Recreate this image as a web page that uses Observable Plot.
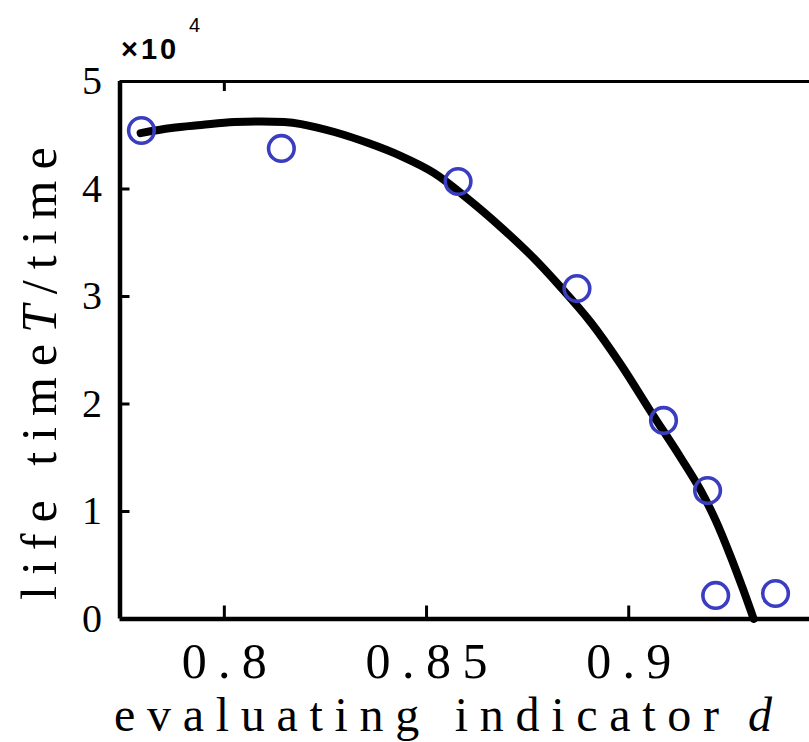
<!DOCTYPE html>
<html>
<head>
<meta charset="utf-8">
<script src="https://cdn.jsdelivr.net/npm/d3@7"></script>
<script src="https://cdn.jsdelivr.net/npm/@observablehq/plot@0.6"></script>
<style>
  html, body { margin: 0; padding: 0; background: white; }
  #chart svg { display: block; }
</style>
</head>
<body>
<div id="chart"></div>
<script>
// Measured samples: evaluating indicator d and life time T (in units of 10^4)
const sampleD = [0.7795, 0.8141, 0.8578, 0.8872, 0.9086, 0.9195, 0.9215, 0.9363];
const sampleT = [4.544, 4.377, 4.070, 3.074, 1.847, 1.195, 0.219, 0.237];

// Fitted curve
const fitD = [0.7793, 0.7869, 0.7943, 0.8025, 0.8148, 0.8190, 0.8272, 0.8356, 0.8437, 0.8519,
              0.8603, 0.8684, 0.8758, 0.8832, 0.8906, 0.8980, 0.9054, 0.9128, 0.9178, 0.9215,
              0.9252, 0.9282, 0.9309];
const fitT = [4.520, 4.567, 4.595, 4.623, 4.623, 4.604, 4.530, 4.427, 4.306, 4.148,
              3.906, 3.645, 3.384, 3.086, 2.761, 2.370, 1.932, 1.504, 1.197, 0.917,
              0.582, 0.284, 0.0];

const xTicks = [0.8, 0.85, 0.9];
const xTopTicks = [0.8];
const yTicks = [0, 1, 2, 3, 4, 5];
const yInnerTicks = [1, 2, 3, 4];
const xDomain = [0.7742, 0.9447];
const yDomain = [0, 5];

const samples = sampleD.map((d, i) => ({d, t: sampleT[i]}));
const fit = fitD.map((d, i) => ({d, t: fitT[i]}));

const serif = "'Liberation Serif', 'Times New Roman', serif";

const chart = Plot.plot({
  width: 809,
  height: 742,
  marginLeft: 119.5,
  marginRight: 0,
  marginTop: 81,
  marginBottom: 123.5,
  style: {background: "white", overflow: "visible"},
  x: {domain: xDomain},
  y: {domain: yDomain},
  marks: [
    Plot.line(fit, {x: "d", y: "t", stroke: "black", strokeWidth: 8, curve: "catmull-rom"}),
    Plot.dot(samples, {x: "d", y: "t", r: 12.8, stroke: "#3a3dbf", strokeWidth: 3.6, fill: "none"}),
    Plot.ruleY([yDomain[1]], {stroke: "black", strokeWidth: 3}),
    Plot.ruleY([yDomain[0]], {stroke: "black", strokeWidth: 4.5}),
    Plot.ruleX([xDomain[0]], {stroke: "black", strokeWidth: 4.5}),
    Plot.axisY(yInnerTicks, {anchor: "left", tickSize: -10, strokeWidth: 3, tickFormat: () => "", label: null}),
    Plot.axisY(yTicks, {anchor: "left", tickSize: 0, tickPadding: 18, fontSize: 40, fontFamily: serif,
                        tickFormat: d => String(d), label: null}),
    Plot.axisX(xTicks, {anchor: "bottom", tickSize: -13, strokeWidth: 3, tickFormat: () => "", label: null}),
    Plot.axisX(xTicks, {anchor: "bottom", tickSize: 0, tickPadding: 23, fontSize: 50, fontFamily: serif,
                        tickFormat: d => String(d), label: null}),
    Plot.axisX(xTopTicks, {anchor: "top", tickSize: -9, strokeWidth: 3, tickFormat: () => "", label: null})
  ]
});

document.getElementById("chart").appendChild(chart);

const svg = d3.select(chart);

// mimic the monospaced look of the x tick labels
svg.selectAll('g[aria-label="x-axis tick label"] text').each(function () {
  const n = this.textContent.length;
  if (n > 0) {
    d3.select(this).attr("textLength", 85 + (n - 3) * 37).attr("lengthAdjust", "spacing");
  }
});

// x-axis title
const xt = svg.append("g").attr("font-family", serif).attr("font-size", 48)
  .attr("fill", "black").attr("text-anchor", "start");
xt.append("text").attr("x", 114).attr("y", 731)
  .attr("textLength", 605).attr("lengthAdjust", "spacing")
  .text("evaluating indicator");
xt.append("text").attr("x", 748).attr("y", 731).attr("font-style", "italic").text("d");

// y-axis title
const yt = svg.append("text")
  .attr("transform", "translate(56,600) rotate(-90)")
  .attr("text-anchor", "start")
  .attr("font-family", serif).attr("font-size", 50).attr("fill", "black")
  .attr("letter-spacing", "11px");
yt.append("tspan").text("life time");
yt.append("tspan").attr("font-style", "italic").text("T");
yt.append("tspan").text("/time");

// exponent
const ex = svg.append("g").attr("font-family", "'Liberation Sans', Arial, sans-serif")
  .attr("fill", "black").attr("text-anchor", "start");
ex.append("text").attr("x", 121).attr("y", 59).attr("font-size", 29).attr("font-weight", "bold")
  .attr("letter-spacing", "3px").text("×10");
ex.append("text").attr("x", 189).attr("y", 32).attr("font-size", 20).text("4");
</script>
</body>
</html>
